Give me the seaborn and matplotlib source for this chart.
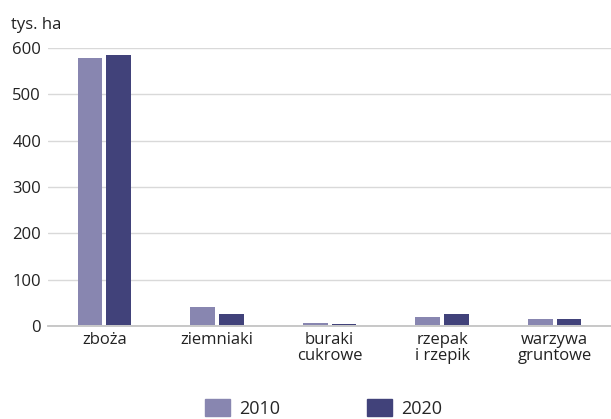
import matplotlib
matplotlib.use("Agg")
import matplotlib.pyplot as plt
from matplotlib.patches import FancyBboxPatch
import pandas as pd
import seaborn as sns

categories = ["zboża", "ziemniaki", "buraki\ncukrowe", "rzepak\ni rzepik", "warzywa\ngruntowe"]
years = ["2010", "2020"]
values_2010 = [578, 40, 5, 19, 14]
values_2020 = [583, 24, 4, 25, 13]
yticks = [0, 100, 200, 300, 400, 500, 600]

df = pd.DataFrame({
    "kategoria": categories * 2,
    "rok": [years[0]] * len(categories) + [years[1]] * len(categories),
    "wartosc": values_2010 + values_2020,
})

palette = {"2010": "#8886b0", "2020": "#41427a"}

sns.set_style("white")
plt.rcParams["font.family"] = ["Open Sans", "DejaVu Sans"]

fig = plt.figure(figsize=(6.11, 4.19), dpi=100)
ax = fig.add_axes([0.0786, 0.222, 0.9214, 0.6634])

sns.barplot(data=df, x="kategoria", y="wartosc", hue="rok", palette=palette,
            width=0.51, gap=0.14, saturation=1, legend=False, linewidth=0, ax=ax)
for p in ax.patches:
    p.set_zorder(3)
    # lift bars just above the baseline line
    p.set_y(1.2)

ax.set_xlim(-0.5, 4.5)
ax.set_ylim(0, 600)
ax.set_yticks(yticks)
ax.yaxis.grid(True, color="#d9d9d9", linewidth=1)
ax.set_axisbelow(True)
for s in ["top", "right", "left"]:
    ax.spines[s].set_visible(False)
ax.spines["bottom"].set_color("#c4c4c4")
ax.spines["bottom"].set_linewidth(1.3)
ax.tick_params(axis="both", length=0, labelsize=12, colors="#222222", pad=5)
ax.tick_params(axis="x", pad=4)
for lbl in ax.get_xticklabels():
    lbl.set_linespacing(1.05)
ax.set_xlabel("")
ax.set_ylabel("")

fig.text(0.018, 0.94, "tys. ha", fontsize=12, color="#222222", va="center")

handles = [FancyBboxPatch((0, 0), 1, 1, boxstyle="round,pad=0,rounding_size=0.15",
                          color=palette[y]) for y in years]
leg = fig.legend(handles, years, loc="center", bbox_to_anchor=(0.53, 0.025), ncol=2,
                 frameon=False, fontsize=13, handlelength=1.4, handleheight=1.1,
                 columnspacing=4.8, handletextpad=0.5)

fig.savefig("out.png", dpi=100)
